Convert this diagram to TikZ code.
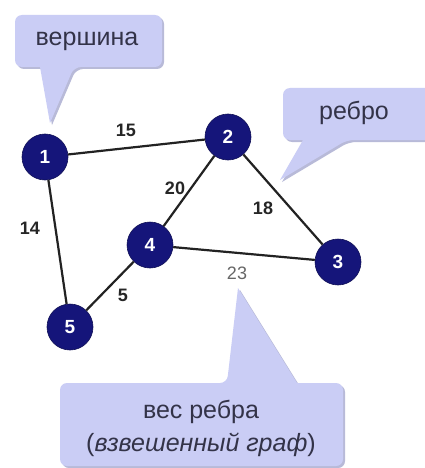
\documentclass[tikz,border=0pt]{standalone}
\usepackage{fontspec}
\setmainfont{Liberation Sans}
\definecolor{callfill}{HTML}{CACDF5}
\definecolor{callshadow}{HTML}{B8BAD8}
\definecolor{vnavy}{HTML}{15157A}
\definecolor{edgecol}{HTML}{222222}
\definecolor{calltxt}{HTML}{333348}
\begin{document}
\begin{tikzpicture}[x=1pt,y=-1pt,
  vertex/.style={circle,fill=vnavy,draw=vnavy!70!black,line width=0.6pt,minimum size=46pt,inner sep=0pt,text=white,font=\fontsize{19}{19}\selectfont\bfseries},
  edgeline/.style={draw=edgecol,line width=2.2pt},
  wlabel/.style={font=\fontsize{18}{18}\selectfont\bfseries,text=black!85},
  callout/.style={fill=callfill,draw=none},
  cshadow/.style={fill=callshadow,draw=none},
  calltext/.style={font=\fontsize{25}{27}\selectfont,text=calltxt}]
\useasboundingbox (0,0) rectangle (425,468);
\fill[white] (0,0) rectangle (425,468);

% callouts (shadow then body)
\foreach \s/\st in {2/cshadow,0/callout}{
  \path[\st,shift={(\s,\s)}] [rounded corners=7pt] (15,15) -- (162,15) -- (162,67) -- (74,67) [sharp corners] -- (50,123) -- (40,67) [rounded corners=7pt] -- (15,67) -- cycle;
  \path[\st,shift={(\s,\s)}] [rounded corners=7pt] (283,88) -- (440,88) -- (440,140) -- (347,140) [sharp corners] -- (280,180) -- (303,140) [rounded corners=7pt] -- (283,140) -- cycle;
  \path[\st,shift={(\s,\s)}] [rounded corners=7pt] (60,383) -- (227,383) [sharp corners] -- (238,288) -- (297,383) [rounded corners=7pt] -- (343,383) -- (343,466) -- (60,466) -- cycle;
}
\node[calltext] (t1) at (87,41) {вершина};
\node[calltext] (t2) at (354,113) {ребро};
\node[calltext] (t3a) at (201,412) {вес ребра};
\node[calltext] (t3b) at (201,445) {(\textit{взвешенный граф})};

% vertices
\node[vertex] (v1) at (45,157) {1};
\node[vertex] (v2) at (228,137) {2};
\node[vertex] (v3) at (338,262) {3};
\node[vertex] (v4) at (150,245) {4};
\node[vertex] (v5) at (70,327) {5};

% edges
\path[edgeline] (v1) -- (v2);
\path[edgeline] (v1) -- (v5);
\path[edgeline] (v2) -- (v4);
\path[edgeline] (v2) -- (v3);
\path[edgeline] (v4) -- (v3);
\path[edgeline] (v4) -- (v5);

% weights
\node[wlabel] (w15) at (126,130) {15};
\node[wlabel] (w20) at (175,188) {20};
\node[wlabel] (w18) at (263,208) {18};
\node[wlabel] (w14) at (30,228) {14};
\node[wlabel] (w5) at (123,295) {5};
\node[font=\fontsize{18}{18}\selectfont,text=black!60] (w23) at (237,273) {23};
\end{tikzpicture}
\end{document}
